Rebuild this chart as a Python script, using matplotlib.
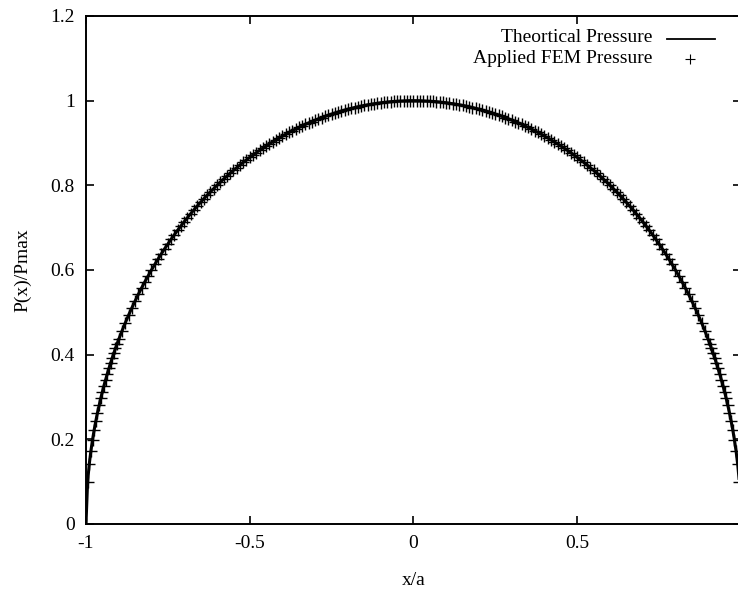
import matplotlib
matplotlib.use("Agg")
import matplotlib.pyplot as plt

# config
plt.rcParams["font.family"] = ["Liberation Serif", "DejaVu Serif"]
plt.rcParams["font.size"] = 14

# -----------------------------
# Data (x/a vs P(x)/Pmax)
# -----------------------------
x_over_a = [
    -1.0, -0.995, -0.99, -0.985, -0.98, -0.975, -0.97, -0.965, -0.96, -0.955,
    -0.95, -0.945, -0.94, -0.935, -0.93, -0.925, -0.92, -0.915, -0.91, -0.905,
    -0.90, -0.89, -0.88, -0.87, -0.86, -0.85, -0.84, -0.83, -0.82, -0.81,
    -0.80, -0.79, -0.78, -0.77, -0.76, -0.75, -0.74, -0.73, -0.72, -0.71,
    -0.70, -0.69, -0.68, -0.67, -0.66, -0.65, -0.64, -0.63, -0.62, -0.61,
    -0.60, -0.59, -0.58, -0.57, -0.56, -0.55, -0.54, -0.53, -0.52, -0.51,
    -0.50, -0.49, -0.48, -0.47, -0.46, -0.45, -0.44, -0.43, -0.42, -0.41,
    -0.40, -0.39, -0.38, -0.37, -0.36, -0.35, -0.34, -0.33, -0.32, -0.31,
    -0.30, -0.29, -0.28, -0.27, -0.26, -0.25, -0.24, -0.23, -0.22, -0.21,
    -0.20, -0.19, -0.18, -0.17, -0.16, -0.15, -0.14, -0.13, -0.12, -0.11,
    -0.10, -0.09, -0.08, -0.07, -0.06, -0.05, -0.04, -0.03, -0.02, -0.01,
    0.0,
    0.01, 0.02, 0.03, 0.04, 0.05, 0.06, 0.07, 0.08, 0.09, 0.10,
    0.11, 0.12, 0.13, 0.14, 0.15, 0.16, 0.17, 0.18, 0.19, 0.20,
    0.21, 0.22, 0.23, 0.24, 0.25, 0.26, 0.27, 0.28, 0.29, 0.30,
    0.31, 0.32, 0.33, 0.34, 0.35, 0.36, 0.37, 0.38, 0.39, 0.40,
    0.41, 0.42, 0.43, 0.44, 0.45, 0.46, 0.47, 0.48, 0.49, 0.50,
    0.51, 0.52, 0.53, 0.54, 0.55, 0.56, 0.57, 0.58, 0.59, 0.60,
    0.61, 0.62, 0.63, 0.64, 0.65, 0.66, 0.67, 0.68, 0.69, 0.70,
    0.71, 0.72, 0.73, 0.74, 0.75, 0.76, 0.77, 0.78, 0.79, 0.80,
    0.81, 0.82, 0.83, 0.84, 0.85, 0.86, 0.87, 0.88, 0.89, 0.90,
    0.905, 0.91, 0.915, 0.92, 0.925, 0.93, 0.935, 0.94, 0.945, 0.95,
    0.955, 0.96, 0.965, 0.97, 0.975, 0.98, 0.985, 0.99, 0.995, 1.0,
]

p_over_pmax = [
    0.0, 0.0999, 0.1411, 0.1726, 0.1990, 0.2222, 0.2431, 0.2623, 0.2800, 0.2966,
    0.3122, 0.3271, 0.3412, 0.3546, 0.3676, 0.3800, 0.3919, 0.4035, 0.4146, 0.4254,
    0.4359, 0.4560, 0.4750, 0.4931, 0.5103, 0.5268, 0.5426, 0.5578, 0.5724, 0.5864,
    0.6000, 0.6131, 0.6258, 0.6380, 0.6499, 0.6614, 0.6726, 0.6834, 0.6940, 0.7042,
    0.7141, 0.7238, 0.7332, 0.7424, 0.7513, 0.7599, 0.7684, 0.7766, 0.7846, 0.7924,
    0.8000, 0.8074, 0.8146, 0.8216, 0.8285, 0.8352, 0.8417, 0.8480, 0.8542, 0.8602,
    0.8660, 0.8717, 0.8773, 0.8827, 0.8879, 0.8930, 0.8980, 0.9028, 0.9075, 0.9121,
    0.9165, 0.9208, 0.9250, 0.9290, 0.9330, 0.9367, 0.9404, 0.9440, 0.9474, 0.9507,
    0.9539, 0.9570, 0.9600, 0.9629, 0.9656, 0.9682, 0.9708, 0.9732, 0.9755, 0.9777,
    0.9798, 0.9818, 0.9837, 0.9854, 0.9871, 0.9887, 0.9902, 0.9915, 0.9928, 0.9939,
    0.9950, 0.9959, 0.9968, 0.9975, 0.9982, 0.9987, 0.9992, 0.9995, 0.9998, 1.0000,
    1.0000,
    1.0000, 0.9998, 0.9995, 0.9992, 0.9987, 0.9982, 0.9975, 0.9968, 0.9959, 0.9950,
    0.9939, 0.9928, 0.9915, 0.9902, 0.9887, 0.9871, 0.9854, 0.9837, 0.9818, 0.9798,
    0.9777, 0.9755, 0.9732, 0.9708, 0.9682, 0.9656, 0.9629, 0.9600, 0.9570, 0.9539,
    0.9507, 0.9474, 0.9440, 0.9404, 0.9367, 0.9330, 0.9290, 0.9250, 0.9208, 0.9165,
    0.9121, 0.9075, 0.9028, 0.8980, 0.8930, 0.8879, 0.8827, 0.8773, 0.8717, 0.8660,
    0.8602, 0.8542, 0.8480, 0.8417, 0.8352, 0.8285, 0.8216, 0.8146, 0.8074, 0.8000,
    0.7924, 0.7846, 0.7766, 0.7684, 0.7599, 0.7513, 0.7424, 0.7332, 0.7238, 0.7141,
    0.7042, 0.6940, 0.6834, 0.6726, 0.6614, 0.6499, 0.6380, 0.6258, 0.6131, 0.6000,
    0.5864, 0.5724, 0.5578, 0.5426, 0.5268, 0.5103, 0.4931, 0.4750, 0.4560, 0.4359,
    0.4254, 0.4146, 0.4035, 0.3919, 0.3800, 0.3676, 0.3546, 0.3412, 0.3271, 0.3122,
    0.2966, 0.2800, 0.2623, 0.2431, 0.2222, 0.1990, 0.1726, 0.1411, 0.0999, 0.0,
]

x_ticks = [-1, -0.5, 0, 0.5]
x_tick_labels = ["-1", "-0.5", "0", "0.5"]
y_ticks = [0, 0.2, 0.4, 0.6, 0.8, 1.0, 1.2]
y_tick_labels = ["0", "0.2", "0.4", "0.6", "0.8", "1", "1.2"]

# -----------------------------
# Plot
# -----------------------------
fig = plt.figure(figsize=(7.38, 6.0), dpi=100)
# right edge of the frame runs just past the picture, as in the scan
ax = fig.add_axes([0.1165, 0.1267, 0.8875, 0.8467])

ax.plot(x_over_a, p_over_pmax, color="black", linewidth=2.2)
ax.plot(x_over_a, p_over_pmax, linestyle="", marker="+", markersize=8,
        markeredgewidth=1.0, color="black")

ax.set_xlim(-1, 1)
ax.set_ylim(0, 1.2)
ax.set_xticks(x_ticks)
ax.set_xticklabels(x_tick_labels)
ax.set_yticks(y_ticks)
ax.set_yticklabels(y_tick_labels)
ax.tick_params(direction="in", length=6, width=1.2, top=True, right=True, pad=8)

for side in ["left", "bottom", "top", "right"]:
    ax.spines[side].set_linewidth(1.4)

ax.set_xlabel("x/a", labelpad=14)
ax.set_ylabel("P(x)/Pmax", labelpad=14)

# gnuplot-style key: right-justified text, sample to the right
ax.text(0.864, 0.957, "Theortical Pressure", transform=ax.transAxes,
        ha="right", va="center")
ax.plot([0.887, 0.960], [0.955, 0.955], transform=ax.transAxes,
        color="black", linewidth=1.3, clip_on=False)
ax.text(0.864, 0.917, "Applied FEM Pressure", transform=ax.transAxes,
        ha="right", va="center")
ax.plot([0.922], [0.915], transform=ax.transAxes, linestyle="",
        marker="+", markersize=7, markeredgewidth=0.8, color="black",
        clip_on=False)

fig.savefig("out.png", dpi=100)
plt.close(fig)
